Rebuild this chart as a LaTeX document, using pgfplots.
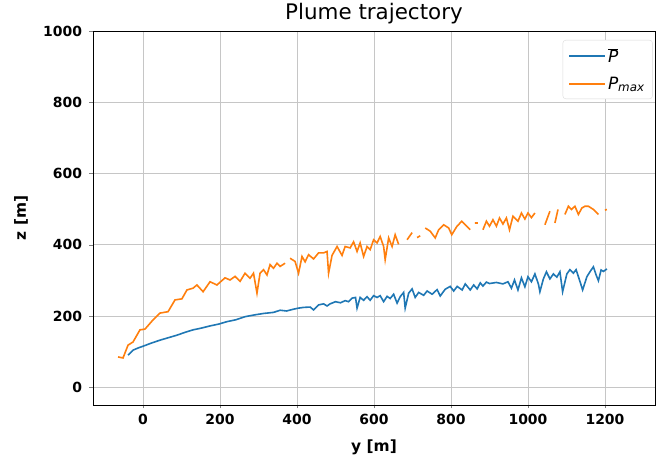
\documentclass[border=0pt]{standalone}
\usepackage{pgfplots}
\pgfplotsset{compat=1.18}
\usepackage{fontspec}
\setmainfont{DejaVu Sans}
\definecolor{mplblue}{HTML}{1F77B4}
\definecolor{mplorange}{HTML}{FF7F0E}
\begin{document}
\begin{tikzpicture}
\path[use as bounding box] (-93bp,-54bp) rectangle (563bp,405bp);
\begin{axis}[
  scale only axis, width=562bp, height=374bp,
  at={(0,0)}, anchor=south west,
  xmin=-130, xmax=1330, ymin=-50, ymax=1000,
  xtick={0,200,...,1200}, ytick={0,200,...,1000},
  tick pos=left, tick align=outside, major tick length=3.5bp,
  /pgf/number format/assume math mode=true,
  /pgf/number format/1000 sep={},
  tick label style={font=\fontsize{14}{14}\selectfont\bfseries},
  xticklabel style={yshift=-2bp},
  yticklabel style={xshift=-4bp},
  grid=major, major grid style={gray!45, line width=0.6bp},
  axis line style={line width=0.8bp},
  title={Plume trajectory},
  title style={font=\fontsize{21.5}{21.5}\selectfont, at={(axis description cs:0.5,1.016)}, anchor=base},
  xlabel={y [m]}, ylabel={z [m]},
  label style={font=\fontsize{15.5}{15.5}\selectfont\bfseries},
  xlabel style={at={(axis description cs:0.5,-0.112)}, anchor=center},
  ylabel style={at={(axis description cs:-0.128,0.5)}, anchor=center},
  unbounded coords=jump,
  legend cell align=left,
  legend style={at={(axis description cs:0.996,0.976)}, anchor=north east,
    draw=gray!30, rounded corners=3bp, fill=white,
    font=\fontsize{17}{17}\selectfont, row sep=9bp, inner xsep=6bp, inner ysep=6bp,
    /tikz/every even column/.append style={column sep=8bp}},
  legend image code/.code={\draw[#1, line width=1.2bp] (0bp,0bp) -- (36bp,0bp);},
]
\addplot[mplblue, line width=1.6bp] coordinates {
(-39,90) (-26,104) (-13,110) (0,115) (22,124) (44,132) (66,139) (88,146)
(109,154) (130,161) (152,166) (174,172) (196,177) (218,184) (240,189)
(265,198) (290,203) (313,207) (339,210) (356,216) (373,214) (391,219)
(404,222) (417,224) (434,225) (443,217) (456,231) (469,234) (478,228)
(486,234) (500,240) (513,237) (525,243) (534,240) (543,250) (552,252)
(556,222) (564,252) (573,244) (582,254) (590,244) (599,257) (608,252)
(616,257) (625,240) (634,255) (642,249) (651,261) (660,236) (668,254)
(677,266) (681,222) (690,264) (699,276) (707,252) (716,266) (729,258)
(738,270) (751,261) (764,274) (772,256) (785,275) (798,283) (807,270)
(816,283) (829,273) (837,290) (850,273) (859,287) (868,276) (876,293)
(883,284) (892,295) (900,291) (918,294) (935,290) (948,296) (957,278)
(965,301) (974,273) (983,307) (992,282) (1000,310) (1009,296) (1018,318)
(1027,290) (1031,268) (1040,304) (1048,324) (1057,304) (1066,318)
(1075,309) (1083,324) (1090,268) (1101,318) (1109,330) (1118,320)
(1125,330) (1135,297) (1142,273) (1153,310) (1161,324) (1170,338)
(1177,315) (1183,299) (1190,329) (1196,325) (1205,332)
};
\addlegendentry{$\overline{\mbox{\itshape P}}$}
\addplot[mplorange, line width=1.6bp] coordinates {
(-65,85) (-52,82) (-39,118) (-26,127) (-8,161) (5,163) (26,189) (44,208)
(65,212) (83,245) (101,248) (114,273) (130,278) (140,287) (156,268)
(174,296) (192,287) (213,307) (226,301) (239,311) (252,297) (265,320)
(278,306) (287,320) (296,264) (304,320) (313,330) (322,315) (330,344)
(339,334) (348,348) (356,339) (369,348) (375,nan)
(382,362) (395,353) (404,320) (413,367) (421,352) (430,372) (443,360)
(456,377) (469,377) (478,381) (482,320) (491,370) (504,395) (517,370)
(525,395) (538,391) (547,408) (556,381) (564,405) (573,367) (582,395)
(590,386) (599,414) (608,405) (616,423) (625,395) (629,358) (638,419)
(647,395) (655,428) (664,401) (675,nan)
(686,414) (699,434) (705,nan)
(712,420) (720,425) (726,nan)
(733,447) (746,438) (759,419) (768,442) (781,456) (794,447) (802,428)
(815,451) (828,466) (837,456) (850,442) (856,nan)
(862,461) (870,461) (876,nan)
(883,442) (892,466) (900,452) (909,470) (918,452) (926,475) (935,458)
(944,475) (952,442) (961,480) (974,466) (983,489) (992,472) (1000,489)
(1009,476) (1018,489) (1030,nan)
(1044,456) (1057,494) (1063,nan)
(1070,461) (1078,499) (1087,nan)
(1096,485) (1105,508) (1113,499) (1122,508) (1131,485) (1140,503)
(1148,508) (1157,508) (1170,499) (1183,485) (1192,nan)
(1200,497) (1205,499)
};
\addlegendentry{{\itshape P}\textsubscript{\itshape max}}
\end{axis}
\end{tikzpicture}
\end{document}
